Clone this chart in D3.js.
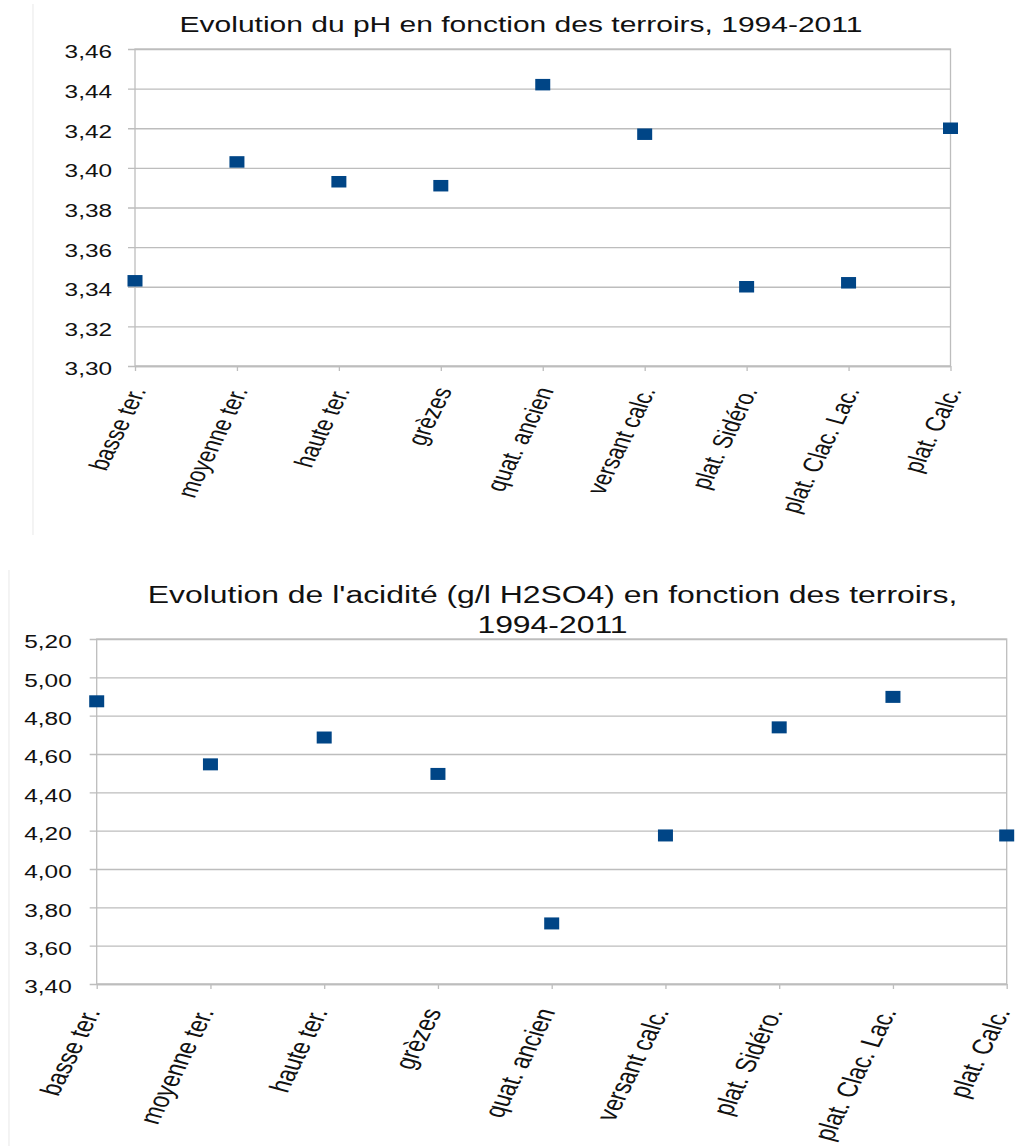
<!DOCTYPE html>
<html>
<head>
<meta charset="utf-8">
<script src="https://cdn.jsdelivr.net/npm/d3@7"></script>
<style>
  html, body { margin: 0; padding: 0; background: #ffffff; }
  svg { display: block; font-family: "Liberation Sans", Arial, sans-serif; }
</style>
</head>
<body>
<svg id="chart" width="1018" height="1146"></svg>
<script>
// ---------- data ----------
const categories = ["basse ter.", "moyenne ter.", "haute ter.", "grèzes", "quat. ancien",
                    "versant calc.", "plat. Sidéro.", "plat. Clac. Lac.", "plat. Calc."];
const phValues   = [3.343, 3.403, 3.393, 3.391, 3.442, 3.417, 3.340, 3.342, 3.420];
const acidValues = [4.875, 4.546, 4.686, 4.496, 3.716, 4.175, 4.739, 4.898, 4.175];
const phTicks    = [3.30, 3.32, 3.34, 3.36, 3.38, 3.40, 3.42, 3.44, 3.46];
const acidTicks  = [3.40, 3.60, 3.80, 4.00, 4.20, 4.40, 4.60, 4.80, 5.00, 5.20];
const phTitle    = ["Evolution du pH en fonction des terroirs, 1994-2011"];
const acidTitle  = ["Evolution de l'acidité (g/l H2SO4) en fonction des terroirs,", "1994-2011"];

// ---------- style ----------
const SX = 1.37;               // horizontal stretch of the source picture
const GRID = "#bdbdbd";
const MARK = "#004586";
const fr = d3.formatLocale({decimal: ",", thousands: " ", grouping: [3], currency: ["", " €"]});
const fmt = fr.format(".2f");

const svg = d3.select("#chart");
svg.append("rect").attr("width", 1018).attr("height", 1146).attr("fill", "#fff");

function drawChart(cfg) {
  const g = svg.append("g");
  // faint frame of the chart object
  g.append("line").attr("x1", cfg.frameX).attr("x2", cfg.frameX)
    .attr("y1", cfg.frameY0).attr("y2", cfg.frameY1)
    .attr("stroke", "#ececec").attr("stroke-width", 1.2);

  const x = d3.scalePoint().domain(categories).range([cfg.left, cfg.right]);
  const y = d3.scaleLinear().domain(cfg.domain).range([cfg.bottom, cfg.top]);

  // title
  cfg.title.forEach((t, i) => {
    g.append("text")
      .attr("transform", `translate(${cfg.titleX},${cfg.titleY[i]}) scale(${SX},1)`)
      .attr("text-anchor", "middle")
      .attr("font-size", cfg.titleSize)
      .attr("fill", "#111")
      .text(t);
  });

  // y axis: gridlines + labels
  const tickOut = 7;
  const yAxis = d3.axisLeft(y).tickValues(cfg.ticks)
    .tickSize(-(cfg.right - cfg.left + tickOut)).tickSizeOuter(0).tickFormat(fmt);
  const ya = g.append("g").attr("transform", `translate(${cfg.left - tickOut},0)`).call(yAxis);
  ya.select(".domain").remove();
  ya.selectAll(".tick line").attr("stroke", GRID).attr("stroke-width", 1.3);
  ya.selectAll(".tick text")
    .attr("x", 0).attr("dy", "0.5em")
    .attr("transform", `translate(${-(cfg.labelGap - tickOut)},0) scale(${SX},1)`)
    .attr("font-size", cfg.tickSize)
    .attr("fill", "#111");

  // plot border
  g.append("rect")
    .attr("x", cfg.left).attr("y", cfg.top)
    .attr("width", cfg.right - cfg.left).attr("height", cfg.bottom - cfg.top)
    .attr("fill", "none").attr("stroke", GRID).attr("stroke-width", 1.3);

  // x axis
  const xAxis = d3.axisBottom(x).tickSize(5).tickSizeOuter(0);
  const xa = g.append("g").attr("transform", `translate(0,${cfg.bottom})`).call(xAxis);
  xa.select(".domain").attr("stroke", GRID).attr("stroke-width", 1.3);
  xa.selectAll(".tick line").attr("stroke", GRID).attr("stroke-width", 1.3);
  xa.selectAll(".tick text")
    .attr("x", 0).attr("y", 0).attr("dy", "0.35em")
    .attr("text-anchor", "end")
    .attr("transform", `translate(${cfg.xlabDx},${cfg.xlabDy}) scale(${SX},1) rotate(-70)`)
    .attr("font-size", cfg.xlabSize)
    .attr("fill", "#111");

  // points
  g.append("g").selectAll("rect.pt")
    .data(cfg.values)
    .join("rect")
    .attr("class", "pt")
    .attr("x", (d, i) => x(categories[i]) - cfg.mw / 2)
    .attr("y", d => y(d) - cfg.mh / 2)
    .attr("width", cfg.mw).attr("height", cfg.mh)
    .attr("fill", MARK);
}

drawChart({
  values: phValues, ticks: phTicks, domain: [3.30, 3.46], title: phTitle,
  left: 135, right: 950.5, top: 49, bottom: 366,
  titleX: 521, titleY: [32], titleSize: 21.9,
  labelGap: 23, tickSize: 17.8,
  xlabDx: 2, xlabDy: 22, xlabSize: 20,
  mw: 15, mh: 11.5,
  frameX: 33, frameY0: 4, frameY1: 535
});

drawChart({
  values: acidValues, ticks: acidTicks, domain: [3.40, 5.20], title: acidTitle,
  left: 96.7, right: 1006.7, top: 639, bottom: 984,
  titleX: 552.5, titleY: [603, 633], titleSize: 23.3,
  labelGap: 25, tickSize: 17.8,
  xlabDx: -6, xlabDy: 25, xlabSize: 21,
  mw: 15, mh: 12,
  frameX: 9, frameY0: 570, frameY1: 1146
});
</script>
</body>
</html>
